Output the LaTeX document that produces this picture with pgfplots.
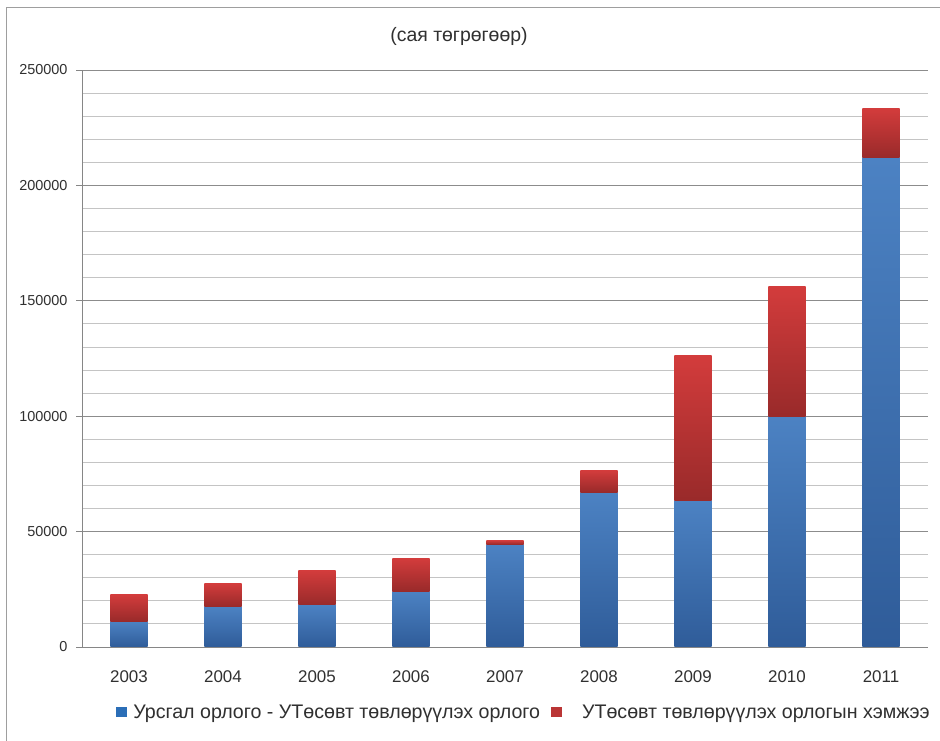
\documentclass[border=0pt]{standalone}
\usepackage{pgfplots}
\usepackage{pgfplotstable}
\pgfplotsset{compat=1.18}
\usepackage{fontspec}
\setmainfont{Liberation Sans}

\definecolor{bluetop}{HTML}{4C82C3}
\definecolor{bluemid}{HTML}{2B6EB7}
\definecolor{bluebot}{HTML}{2F5C99}
\definecolor{redtop}{HTML}{D33C3C}
\definecolor{redbot}{HTML}{992A2A}
\definecolor{gridmajor}{HTML}{8C8C8C}
\definecolor{gridminor}{HTML}{C4C4C4}
\definecolor{axisgray}{HTML}{868686}
\definecolor{txt}{HTML}{303030}

% Revenue by year (million MNT): current revenue net of the budget part,
% and the amount centralised into the budget
\pgfplotstableread{
idx year current budget
0 2003 11100 11670
1 2004 17590  9940
2 2005 18300 14850
3 2006 24200 14260
4 2007 44510  1730
5 2008 67130  9410
6 2009 63530 62870
7 2010 99960 56370
8 2011 211970 21410
}\revenue
\pgfplotstablecreatecol[expr={\thisrow{current}+\thisrow{budget}}]{total}\revenue

\tikzset{
  bluebar/.style={draw=none, top color=bluetop, middle color=bluemid, bottom color=bluebot},
  redbar/.style={draw=none, top color=redtop, bottom color=redbot},
}

\begin{document}
\begin{tikzpicture}
\useasboundingbox (0,0) rectangle (940bp,741bp);
% outer frame
\draw[axisgray!80, line width=0.8bp] (6bp,0) -- (6bp,734bp) -- (940bp,734bp);
\node[font=\fontsize{19.5}{22}\selectfont, text=txt] at (459bp,705bp) {(сая төгрөгөөр)};
\begin{axis}[
  at={(82bp,94bp)}, anchor=south west,
  scale only axis, width=846bp, height=577bp,
  xmin=-0.5, xmax=8.5, ymin=0, ymax=250000,
  axis x line*=bottom, axis y line*=left,
  axis line style={axisgray, line width=0.8bp},
  xtick={0,...,8},
  xticklabels={2003,2004,2005,2006,2007,2008,2009,2010,2011},
  minor xtick={-0.5,0.5,...,8.5},
  x tick style={draw=none},
  minor x tick style={axisgray, line width=0.8bp},
  ytick={0,50000,...,250000},
  minor y tick num=4,
  y tick style={axisgray, line width=0.8bp},
  minor y tick style={draw=none},
  tick align=outside,
  major tick length=6bp, minor tick length=6bp,
  ymajorgrids, yminorgrids,
  major grid style={gridmajor, line width=0.9bp},
  minor grid style={gridminor, line width=0.9bp},
  scaled y ticks=false,
  /pgf/number format/assume math mode=true,
  yticklabel style={/pgf/number format/fixed, /pgf/number format/1000 sep={},
    xshift=-5bp, font=\fontsize{14.5}{17}\selectfont, text=txt},
  xticklabel style={yshift=-14bp, font=\fontsize{17}{20}\selectfont, text=txt},
  legend style={at={(0.5225,-0.1127)}, anchor=center, draw=none,
    font=\fontsize{19.7}{22}\selectfont, text=txt,
    legend columns=2,
    /tikz/every even column/.append style={column sep=9bp}},
  legend cell align=left,
]
\addlegendimage{legend image code/.code={\fill[bluemid] (0bp,-4.5bp) rectangle (9.5bp,4.5bp);}}
\addlegendentry{\hspace*{5bp}Урсгал орлого - УТөсөвт төвлөрүүлэх орлого}
\addlegendimage{legend image code/.code={\fill[redtop!88!black] (0bp,-4.5bp) rectangle (9.5bp,4.5bp);}}
\addlegendentry{\hspace*{19bp}УТөсөвт төвлөрүүлэх орлогын хэмжээ}
% each bar segment is its own path, so that every segment gets its own gradient
\pgfplotsinvokeforeach{0,...,8}{
  \pgfplotstablegetelem{#1}{current}\of\revenue \let\cur\pgfplotsretval
  \pgfplotstablegetelem{#1}{total}\of\revenue \let\tot\pgfplotsretval
  \pgfmathsetmacro\xl{#1-0.197}
  \pgfmathsetmacro\xr{#1+0.197}
  \edef\bars{%
    \noexpand\addplot[bluebar, forget plot] coordinates {(\xl,0) (\xr,0) (\xr,\cur) (\xl,\cur)} -- cycle;
    \noexpand\addplot[redbar, forget plot] coordinates {(\xl,\cur) (\xr,\cur) (\xr,\tot) (\xl,\tot)} -- cycle;
  }\bars
}
\end{axis}
\end{tikzpicture}
\end{document}
